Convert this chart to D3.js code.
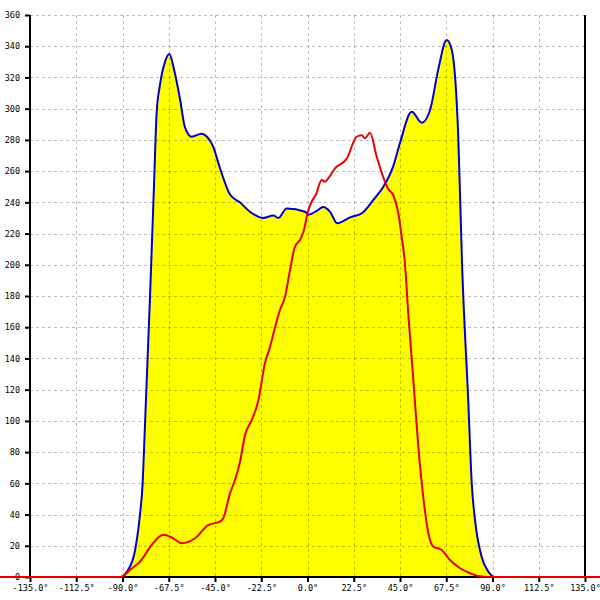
<!DOCTYPE html>
<html>
<head>
<meta charset="utf-8">
<script src="https://cdn.jsdelivr.net/npm/d3@7"></script>
<style>
body{margin:0;background:#fff;}
svg{display:block;}
</style>
</head>
<body>
<svg id="chart" width="600" height="600"></svg>
<script>
// Angles (degrees) and values for the filled (blue outline) series
const blueAngles = [-90,-87.3,-83.9,-81.5,-80.2,-79.4,-78.6,-76.6,-74.7,-73.4,-71.8,-69.3,-67.2,-64.9,-62,-59.6,-56.3,-51.5,-48.9,-46,-42.6,-37.7,-32.9,-28,-21.5,-16.6,-14.2,-10.1,-1.2,0.4,4.5,7.7,10.9,14.5,20.7,26.4,32,36.9,41.7,45,50.7,55.6,59.6,63.6,67.7,70.2,73.4,75.2,78.2,79.9,81.5,84.7,88,90.4];
const blueValues = [0,4.5,17,40,60,86,113,180,250,297,315,330,335,325,306,288,282,284,282,276,262,245,240,234,230,231.5,230,236,234,232,234.5,237,234,226.6,230.4,233,241.5,250,263,278,298,291,299,325,344,337.6,280,200,113,60,36.5,13,3.4,0];

// Angles (degrees) and values for the red line series
const redAngles = [-180,-91.2,-89.8,-86.4,-81.5,-75.8,-70.2,-65.3,-61.2,-54.7,-48.3,-42.6,-41,-37.7,-35.3,-32.8,-30.4,-27.1,-23.9,-20.7,-18.2,-15.8,-13.4,-10.9,-8.5,-6.1,-3.6,-2,0.4,2,4.1,6.9,8.5,10.1,13.4,19.1,23.9,26.4,28,30.4,33.7,36.9,39.3,41.7,44.2,45.8,47.4,49,51.5,53.9,56.3,58.8,61.2,65.3,69.3,74.2,79.1,83.1,88.8,180];
const redValues = [0,0,0.5,4.5,9.8,20.5,27,24.8,21.6,24.8,33.3,35.4,37.6,53.6,62,74,91,100.6,113,137,147.5,160,171,179.6,196.7,211.6,216,221,235,240.4,245,254.3,253.2,255.4,261.8,268,282,283,281,284.5,269,256,248.5,244.7,233,218,201,169,126,83.5,51.4,28,19.4,17.3,10.9,5.6,2.4,0.6,0,0];

const xTicks = [-135,-112.5,-90,-67.5,-45,-22.5,0,22.5,45,67.5,90,112.5,135];
const yTicks = [0,20,40,60,80,100,120,140,160,180,200,220,240,260,280,300,320,340,360];

const svg = d3.select("#chart");
const mL = 30, mR = 585, mT = 15, mB = 577;
const x = d3.scaleLinear().domain([-135,135]).range([mL,mR]);
const y = d3.scaleLinear().domain([0,360]).range([mB,mT]);

const blue = blueAngles.map((a,i)=>({a, v: blueValues[i]}));
const red = redAngles.map((a,i)=>({a, v: redValues[i]}));

// filled area
svg.append("path")
  .datum(blue)
  .attr("fill","#ffff00")
  .attr("d", d3.area().x(d=>x(d.a)).y0(y(0)).y1(d=>y(d.v)).curve(d3.curveMonotoneX));

// grid
const grid = svg.append("g").attr("stroke","#000").attr("stroke-opacity",0.25).attr("stroke-dasharray","3,3").attr("stroke-width",1);
grid.selectAll("line.h").data(yTicks.filter(t=>t>0)).join("line")
  .attr("x1",mL).attr("x2",mR)
  .attr("y1",d=>Math.round(y(d))+0.5).attr("y2",d=>Math.round(y(d))+0.5);
grid.selectAll("line.v").data(xTicks.filter(t=>t>-135 && t<135)).join("line")
  .attr("y1",mT).attr("y2",mB)
  .attr("x1",d=>Math.round(x(d))+0.5).attr("x2",d=>Math.round(x(d))+0.5);

// axes
const fontFam = "'DejaVu Sans Mono', monospace";
const yAxis = svg.append("g").attr("transform",`translate(${mL},0)`)
  .call(d3.axisLeft(y).tickValues(yTicks).tickSize(5).tickPadding(5).tickFormat(d3.format("d")));
const xAxis = svg.append("g").attr("transform",`translate(0,${mB})`)
  .call(d3.axisBottom(x).tickValues(xTicks).tickSize(5).tickPadding(3).tickFormat(d=>d3.format(".1f")(d).replace("−","-")+"°"));
[yAxis,xAxis].forEach(g=>{
  g.select(".domain").attr("stroke","#000").attr("stroke-width",2);
  g.selectAll(".tick line").attr("stroke","#000").attr("stroke-width",2);
  g.selectAll(".tick text").attr("fill","#000").style("font-family",fontFam).style("font-size","8.5px");
});
xAxis.select(".domain").attr("d",`M${mL},0H${mR}`);
yAxis.select(".domain").attr("d",`M0,${mT}V${mB}`);
svg.append("line").attr("x1",mR).attr("x2",mR).attr("y1",mT).attr("y2",mB)
  .attr("stroke","#000").attr("stroke-width",2);

// blue outline
svg.append("path")
  .datum(blue)
  .attr("fill","none").attr("stroke","#0000cc").attr("stroke-width",2)
  .attr("d", d3.line().x(d=>x(d.a)).y(d=>y(d.v)).curve(d3.curveMonotoneX));

// red line
svg.append("path")
  .datum(red)
  .attr("fill","none").attr("stroke","#e60000").attr("stroke-width",2)
  .attr("d", d3.line().x(d=>x(d.a)).y(d=>y(d.v)).curve(d3.curveMonotoneX));
</script>
</body>
</html>
